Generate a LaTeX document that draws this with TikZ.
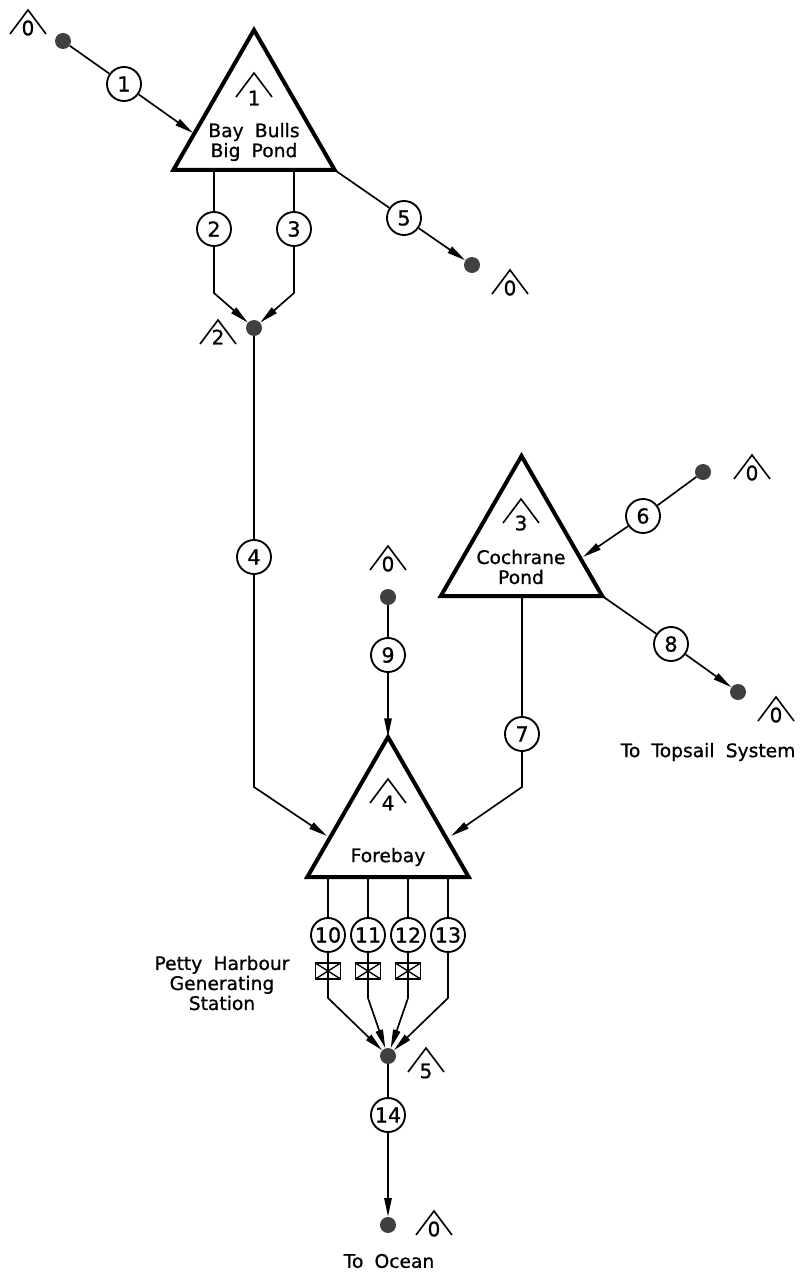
\documentclass[tikz,border=0pt]{standalone}
\usepackage{fontspec}
\setmainfont{DejaVu Sans}[FakeBold=0.9]
\usepackage{tikz}
\usetikzlibrary{arrows.meta,calc,shapes.geometric}
\definecolor{dotgray}{RGB}{64,64,64}
\tikzset{
    flow/.style={line width=1.25pt},
    flowarrow/.style={line width=1.25pt,-{Triangle[length=14pt,width=5.5pt]}},
    pond/.style={
        draw,
        line width=3pt,
        isosceles triangle,
        isosceles triangle stretches=true,
        shape border rotate=90,
        minimum width=121pt,
        minimum height=105pt,
        inner sep=0pt,
        outer sep=0pt,
        anchor=apex
    },
    reach/.style={
        circle,
        draw,
        fill=white,
        line width=1.4pt,
        minimum size=25.5pt,
        inner sep=0pt,
        font=\fontsize{15.5}{15.5}\selectfont
    },
    junction/.style={
        circle,
        fill=dotgray,
        minimum size=12pt,
        inner sep=0pt
    },
    gate/.style={
        rectangle,
        draw,
        line width=1pt,
        minimum width=19pt,
        minimum height=12pt,
        inner sep=0pt,
        path picture={
            \draw[line width=1pt] (path picture bounding box.north west) -- (path picture bounding box.south east);
            \draw[line width=1pt] (path picture bounding box.south west) -- (path picture bounding box.north east);
        }
    },
    tagdigit/.style={font=\fontsize{15}{15}\selectfont,inner sep=0pt},
    tagmark/.style={line width=1.2pt},
    caption/.style={
        align=center,
        inner sep=0pt,
        font=\fontsize{14}{15}\selectfont
    }
}
\begin{document}
\begin{tikzpicture}[x=.75pt,y=-.75pt]
    \useasboundingbox (0,0) rectangle (801,1273);

    % reservoirs
    \node[pond] (bigpond) at (254,30) {};
    \node[pond] (cochrane) at (521.5,456) {};
    \node[pond] (forebay) at (388,737) {};

    % reach numbers
    \foreach \name/\x/\y/\num in {
        r1/124/84/1, r2/214/229/2, r3/294/229/3, r4/254/557/4, r5/404/218/5,
        r6/643/516/6, r7/522/734/7, r8/671/644/8, r9/388/655/9,
        r10/328/935/10, r11/368/935/11, r12/408/935/12, r13/448/935/13,
        r14/388/1115/14
    }{
        \node[reach] (\name) at (\x,\y) {\num};
    }

    % junction dots
    \foreach \name/\x/\y in {
        d1/63/41, d2/254/328, d5/472/265, d6/703/472, d8/738/692,
        d9/388/597, d10/388/1056, d14/388/1225
    }{
        \node[junction] (\name) at (\x,\y) {};
    }

    % where the lines meet the ponds, and their bends
    \coordinate (in1) at (193,133);
    \coordinate (in6) at (583,557);
    \coordinate (in4) at (327,836);
    \coordinate (in7) at (451,836);
    \coordinate (out2) at (214,169);
    \coordinate (out3) at (294,169);
    \coordinate (out7) at (522,595);
    \coordinate (bend2) at (214,293);
    \coordinate (bend3) at (294,293);
    \coordinate (bend4) at (254,787);
    \coordinate (bend7) at (522,787);
    \foreach \x/\n in {328/10,368/11,408/12,448/13}{
        \coordinate (out\n) at (\x,875);
        \coordinate (bend\n) at (\x,998);
    }

    % connectors
    \draw[flow] (d1) -- (r1);
    \draw[flowarrow] (r1) -- (in1);
    \draw[flow] (out2) -- (r2);
    \draw[flow] (out3) -- (r3);
    \draw[flowarrow] (r2) -- (bend2) -- (d2);
    \draw[flowarrow] (r3) -- (bend3) -- (d2);
    \draw[flow] (bigpond.right corner) -- (r5);
    \draw[flowarrow] (r5) -- (d5);
    \draw[flow] (d2) -- (r4);
    \draw[flowarrow] (r4) -- (bend4) -- (in4);
    \draw[flow] (d6) -- (r6);
    \draw[flowarrow] (r6) -- (in6);
    \draw[flow] (cochrane.right corner) -- (r8);
    \draw[flowarrow] (r8) -- (d8);
    \draw[flow] (out7) -- (r7);
    \draw[flowarrow] (r7) -- (bend7) -- (in7);
    \draw[flow] (d9) -- (r9);
    \draw[flowarrow] (r9) -- (forebay.apex);
    \foreach \n in {10,11,12,13}{
        \draw[flow] (out\n) -- (r\n);
        \draw[flowarrow] (r\n) -- (bend\n) -- (d10);
    }
    \draw[flow] (d10) -- (r14);
    \draw[flowarrow] (r14) -- (d14);

    % gates
    \node[gate] (g10) at (328,971) {};
    \node[gate] (g11) at (368,971) {};
    \node[gate] (g12) at (408,971) {};

    % elevation tags
    \foreach \name/\x/\y/\off/\num in {
        t1/28/10/18/0, t2/254/73/25/1, t3/218/320/17/2, t4/510/270/18/0,
        t5/752/455/18/0, t6/521/499/24/3, t7/388/546/18/0, t8/776/697/18/0,
        t9/388/779/24/4, t10/426/1048/23/5, t11/434/1211/18/0
    }{
        \node[tagdigit] (\name) at (\x,\y+\off) {\num};
        \draw[tagmark] (\x-18,\y+24) -- (\x,\y) -- (\x+18,\y+24);
    }

    % names
    \node[caption] (bigpondname) at (254,142) {Bay\hspace{.6em}Bulls\\Big\hspace{.6em}Pond};
    \node[caption] (cochranename) at (521,567) {Cochrane\\Pond};
    \node[caption] (forebayname) at (388,857) {Forebay};
    \node[caption] (station) at (222,983) {Petty\hspace{.6em}Harbour\\Generating\\Station};
    \node[caption] (topsail) at (708,752) {To\hspace{.6em}Topsail\hspace{.6em}System};
    \node[caption] (ocean) at (389,1261) {To\hspace{.6em}Ocean};
\end{tikzpicture}
\end{document}
